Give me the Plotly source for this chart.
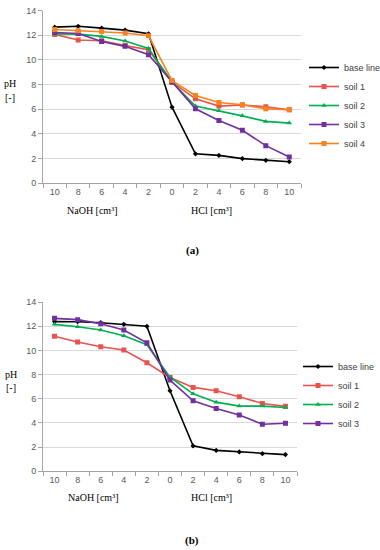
import plotly.graph_objects as go

tick_labels = ["10", "8", "6", "4", "2", "0", "2", "4", "6", "8", "10"]
x_pos = list(range(11))

a_base = [12.65, 12.72, 12.57, 12.41, 12.11, 6.15, 2.37, 2.24, 1.98, 1.84, 1.73]
a_soil1 = [12.06, 11.6, 11.55, 11.15, 10.82, 8.18, 6.83, 6.24, 6.33, 6.18, 5.94]
a_soil2 = [12.1, 12.08, 11.9, 11.52, 10.92, 8.2, 6.24, 5.86, 5.45, 5.0, 4.86]
a_soil3 = [12.22, 12.14, 11.49, 11.09, 10.41, 8.2, 6.02, 5.08, 4.28, 3.03, 2.11]
a_soil4 = [12.46, 12.35, 12.3, 12.17, 11.95, 8.31, 7.1, 6.53, 6.35, 6.02, 5.94]

b_base = [12.38, 12.37, 12.29, 12.15, 11.99, 6.66, 2.1, 1.73, 1.6, 1.46, 1.38]
b_soil1 = [11.16, 10.69, 10.3, 10.03, 8.98, 7.75, 6.94, 6.66, 6.17, 5.61, 5.37]
b_soil2 = [12.15, 11.96, 11.68, 11.21, 10.47, 7.78, 6.41, 5.72, 5.39, 5.39, 5.27]
b_soil3 = [12.65, 12.54, 12.2, 11.68, 10.63, 7.54, 5.83, 5.2, 4.65, 3.89, 3.97]

colors = {"base": "#000000", "s1": "#E8534E", "s2": "#00B050", "s3": "#7030A0", "s4": "#F7821E"}

fig = go.Figure()

def add(y, name, color, symbol, size, xa, ya, legend):
    fig.add_trace(go.Scatter(
        x=x_pos, y=y, name=name, mode="lines+markers",
        line=dict(color=color, width=1.6),
        marker=dict(symbol=symbol, size=size, color=color),
        xaxis=xa, yaxis=ya, legend=legend))

add(a_base, "base line", colors["base"], "diamond", 4, "x", "y", "legend")
add(a_soil1, "soil 1", colors["s1"], "square", 5, "x", "y", "legend")
add(a_soil2, "soil 2", colors["s2"], "triangle-up", 5, "x", "y", "legend")
add(a_soil3, "soil 3", colors["s3"], "square", 5, "x", "y", "legend")
add(a_soil4, "soil 4", colors["s4"], "square", 5, "x", "y", "legend")

add(b_base, "base line", colors["base"], "diamond", 4, "x2", "y2", "legend2")
add(b_soil1, "soil 1", colors["s1"], "square", 5, "x2", "y2", "legend2")
add(b_soil2, "soil 2", colors["s2"], "triangle-up", 5, "x2", "y2", "legend2")
add(b_soil3, "soil 3", colors["s3"], "square", 5, "x2", "y2", "legend2")

tickfont = dict(family="Liberation Sans, Arial", size=9, color="#595959")

def xaxis(domain, anchor):
    return dict(domain=domain, anchor=anchor, range=[-0.5, 10.5], automargin=False,
                tickmode="array", tickvals=x_pos, ticktext=tick_labels,
                ticks="", showgrid=False, showline=True, linecolor="#A6A6A6",
                linewidth=1, tickfont=tickfont, zeroline=False,
                minor=dict(tickmode="linear", tick0=-0.5, dtick=1, ticks="outside",
                           ticklen=4, tickcolor="#A6A6A6", showgrid=False))

def yaxis(domain, anchor):
    return dict(domain=domain, anchor=anchor, range=[0, 14], dtick=2, automargin=False,
                showgrid=True, gridcolor="#D9D9D9", gridwidth=1,
                showline=True, linecolor="#A6A6A6", ticks="outside",
                ticklen=4, tickcolor="#A6A6A6", tickfont=tickfont, zeroline=False)

legfont = dict(family="Liberation Sans Narrow, Liberation Sans, Arial", size=9, color="#404040")

fig.update_layout(
    width=380, height=550, margin=dict(l=0, r=0, t=0, b=0, autoexpand=False),
    paper_bgcolor="white", plot_bgcolor="white",
    xaxis=xaxis([43/380, 301/380], "y"),
    yaxis=yaxis([1 - 183/550, 1 - 10.5/550], "x"),
    xaxis2=xaxis([43/380, 297/380], "y2"),
    yaxis2=yaxis([1 - 471.3/550, 1 - 302/550], "x2"),
    legend=dict(x=304/380, y=1 - 105.5/550, xanchor="left", yanchor="middle",
                font=legfont, tracegroupgap=0, itemwidth=30, bgcolor="rgba(0,0,0,0)"),
    legend2=dict(x=298/380, y=1 - 395/550, xanchor="left", yanchor="middle",
                 font=legfont, tracegroupgap=0, itemwidth=30, bgcolor="rgba(0,0,0,0)"),
    showlegend=True,
)

serif = dict(family="Liberation Serif, Times New Roman", size=10, color="#000000")
ann = [
    (10, 84, "pH"), (10, 97, "[-]"), (92, 210, "NaOH [cm³]"), (212, 210, "HCl [cm³]"),
    (11, 374, "pH"), (11, 387, "[-]"), (93, 498, "NaOH [cm³]"), (212, 498, "HCl [cm³]"),
]
for x, y, t in ann:
    fig.add_annotation(x=x/380, y=1 - y/550, xref="paper", yref="paper", text=t,
                       showarrow=False, font=serif, xanchor="center", yanchor="middle")
for x, y, t in [(192, 251, "<b>(a)</b>"), (192, 540, "<b>(b)</b>")]:
    fig.add_annotation(x=x/380, y=1 - y/550, xref="paper", yref="paper", text=t,
                       showarrow=False, font=dict(family="Liberation Serif, Times New Roman", size=11, color="#000"),
                       xanchor="center", yanchor="middle")

fig.write_html("out.html", config={"displayModeBar": False},
               post_script="document.body.style.margin='0';document.body.style.overflow='hidden';")
